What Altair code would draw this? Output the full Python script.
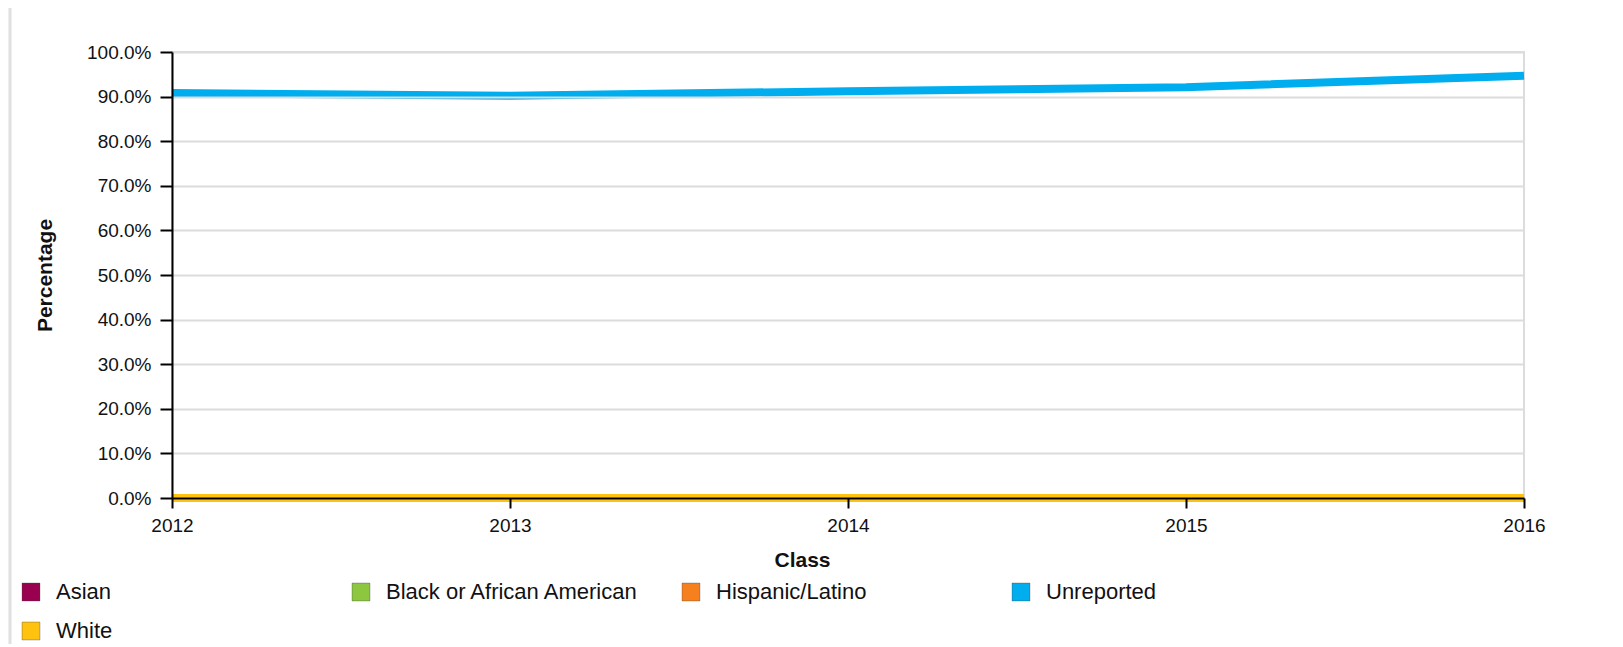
import altair as alt
import pandas as pd

years = [2012, 2013, 2014, 2015, 2016]
groups = ["Asian", "Black or African American", "Hispanic/Latino", "Unreported", "White"]
colors = ["#990050", "#8DC63F", "#F7801E", "#00AEEF", "#FFC20E"]
asian = [0.0, 0.0, 0.0, 0.0, 0.0]
black = [0.0, 0.0, 0.0, 0.0, 0.0]
hispanic = [0.0, 0.0, 0.0, 0.0, 0.0]
unreported = [0.908, 0.902, 0.912, 0.921, 0.947]
white = [0.0, 0.0, 0.0, 0.0, 0.0]
y_ticks = [0.0, 0.1, 0.2, 0.3, 0.4, 0.5, 0.6, 0.7, 0.8, 0.9, 1.0]

series = [asian, black, hispanic, unreported, white]
rows = []
for g, vals in zip(groups, series):
    for yr, v in zip(years, vals):
        rows.append({"Class": yr, "Group": g, "Percentage": v})
df = pd.DataFrame(rows)

W, H = 1352, 446
FONT = "Liberation Sans"

x_enc = alt.X("Class:O", scale=alt.Scale(type="point", padding=0),
              axis=alt.Axis(title="Class", labelAngle=0, grid=False, domainColor="black",
                            domainWidth=2, tickColor="black", tickWidth=2, tickSize=10,
                            labelPadding=8, labelFontSize=19, labelColor="#111",
                            titleFontSize=21, titleFontWeight="bold", titleColor="#111",
                            titleX=630, titleY=62, titleBaseline="middle", zindex=1))
y_enc = alt.Y("Percentage:Q", scale=alt.Scale(domain=[0, 1], nice=False),
              axis=alt.Axis(title="Percentage", values=y_ticks, format=".1%", grid=True,
                            gridColor="#dcdcdc", gridWidth=2, domainColor="black",
                            domainWidth=2, tickColor="black", tickWidth=2, tickSize=12,
                            labelPadding=9, labelFontSize=19, labelColor="#111",
                            titleFontSize=21, titleFontWeight="bold", titleColor="#111",
                            titleX=-127, titleY=223, titleAngle=-90, titleAlign="center",
                            titleBaseline="middle", zindex=1))
color_scale = alt.Scale(domain=groups, range=colors)

lines = alt.Chart(df).mark_line(strokeWidth=8, strokeCap="butt").encode(
    x=x_enc, y=y_enc,
    color=alt.Color("Group:N", scale=color_scale, legend=None),
    order=alt.Order("Class:O"),
)

legend_marks = alt.Chart(df).mark_square(size=0, filled=True, opacity=1).encode(
    x=x_enc, y=y_enc,
    color=alt.Color("Group:N", scale=color_scale,
                    legend=alt.Legend(title=None, orient="none", legendX=-152, legendY=529,
                                      direction="horizontal",
                                      columns=4, gridAlign="all", columnPadding=40,
                                      rowPadding=17, symbolType="square", symbolSize=320,
                                      symbolStrokeWidth=1,
                                      symbolStrokeColor="rgba(0,0,0,0.25)",
                                      symbolOpacity=1, labelFontSize=22,
                                      labelOffset=14, labelColor="#111", padding=0,
                                      labelLimit=400)),
)

frame_df = pd.DataFrame({"a": [0]})
frame_left = alt.Chart(frame_df).mark_rule(color="#e0e0e0", strokeWidth=3).encode(
    x=alt.value(-162), y=alt.value(-47), y2=alt.value(600))

chart = alt.layer(frame_left, lines, legend_marks).resolve_legend(
    color="independent"
).properties(
    width=W, height=H,
    autosize=alt.AutoSizeParams(type="none"),
    padding={"left": 164, "top": 44, "right": 85, "bottom": 146},
).configure(font=FONT).configure_view(stroke="#dcdcdc", strokeWidth=2)

chart.save("out.html", embed_options={"renderer": "svg", "actions": False})
